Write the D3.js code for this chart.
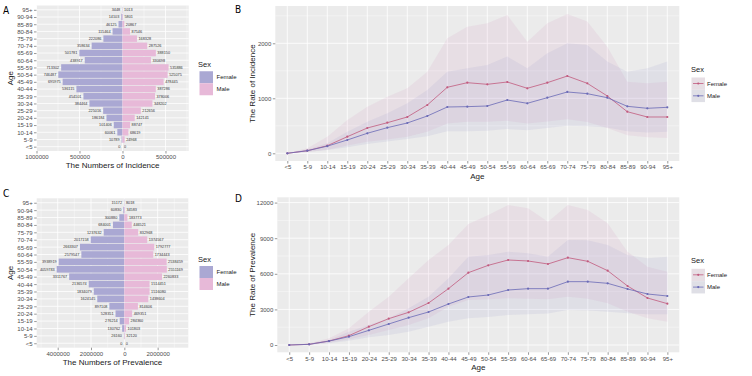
<!DOCTYPE html>
<html>
<head>
<meta charset="utf-8">
<script src="https://cdn.jsdelivr.net/npm/d3@7"></script>
<style>
  body { margin: 0; background: #fff; }
  svg text { font-family: "Liberation Sans", Arial, sans-serif; }
</style>
</head>
<body>
<svg id="chart" width="752" height="376"></svg>
<script>
// age groups, bottom (<5) to top (95+)
const ages = ["<5","5-9","10-14","15-19","20-24","25-29","30-34","35-39","40-44","45-49",
  "50-54","55-59","60-64","65-69","70-74","75-79","80-84","85-89","90-94","95+"];

// A: numbers of incidence
const incFemaleNum = [0, 10789, 60061, 101406, 186184, 225016, 384464, 454101, 536115, 695975,
  746487, 713302, 438917, 501781, 358634, 222086, 115464, 46125, 14103, 3448];
const incMaleNum = [0, 24968, 68619, 88747, 142141, 212656, 348202, 378006, 387286, 478445,
  525075, 535886, 330698, 388150, 287526, 168328, 87546, 20867, 5801, 1013];

// C: numbers of prevalence
const prevFemaleNum = [0, 26160, 130762, 276214, 528351, 897108, 1624145, 1834079, 2136574, 3311767,
  4059783, 3938919, 2579547, 2663307, 2017158, 1237632, 684001, 300880, 60830, 15172];
const prevMaleNum = [0, 32120, 101803, 284360, 469351, 814606, 1438604, 1516080, 1514451, 2260833,
  2551169, 2538459, 1734443, 1792777, 1374567, 832968, 446521, 183773, 34583, 8018];

// B: rate of incidence (with uncertainty bands)
const incRateFemale = [0, 47, 138, 302, 460, 556, 660, 878, 1200, 1284, 1254, 1296, 1182, 1284, 1405, 1272, 1042, 756, 660, 660];
const incFemaleHi = [0, 91, 302, 605, 847, 1029, 1182, 1484, 2090, 2302, 2364, 2515, 2030, 2364, 2533, 2394, 1939, 1303, 1273, 1303];
const incFemaleLo = [0, 22, 65, 140, 210, 250, 300, 390, 540, 575, 575, 590, 540, 580, 620, 570, 460, 330, 290, 280];
const incRateMale = [0, 47, 130, 242, 364, 466, 551, 678, 842, 848, 860, 969, 909, 1011, 1115, 1084, 1011, 854, 818, 836];
const incMaleHi = [0, 70, 182, 393, 575, 727, 909, 1151, 1484, 1545, 1606, 1758, 1545, 1818, 2000, 1970, 1667, 1484, 1545, 1667];
const incMaleLo = [0, 22, 60, 110, 170, 215, 260, 310, 400, 400, 410, 440, 420, 460, 500, 490, 470, 400, 380, 390];

// D: rate of prevalence
const prevRateFemale = [0, 56, 337, 787, 1545, 2219, 2753, 3539, 4747, 6095, 6713, 7163, 7079, 6826, 7360, 7051, 6264, 4972, 3961, 3483];
const prevFemaleHi = [0, 140, 562, 1404, 2809, 4073, 5618, 7163, 8427, 10200, 10955, 11798, 11517, 10393, 11798, 11376, 10253, 7865, 6601, 6180];
const prevFemaleLo = [0, 30, 200, 480, 843, 1264, 1685, 2247, 3230, 3792, 3850, 3933, 3900, 3850, 4073, 3900, 3511, 2809, 2247, 1966];
const prevRateMale = [0, 56, 330, 702, 1236, 1770, 2303, 2781, 3455, 4045, 4213, 4635, 4747, 4747, 5337, 5337, 5197, 4719, 4298, 4129];
const prevMaleHi = [0, 100, 422, 1124, 1685, 2247, 3090, 4073, 5618, 7444, 7584, 7865, 7725, 7444, 8848, 8820, 8427, 7584, 7303, 7444];
const prevMaleLo = [0, 30, 140, 365, 650, 843, 1124, 1545, 1966, 2247, 2350, 2528, 2600, 2650, 2949, 2900, 2809, 2668, 2600, 2600];

const sexes = ["Female", "Male"];

const svg = d3.select("#chart");
const panelBg = "#ebebeb";
const barColor = {Female: "#aaa8d3", Male: "#e7b9d8"};
const lineColor = {Female: "#c25a7e", Male: "#6a6ab6"};
const ribbonColor = {Female: "#d08cba", Male: "#9494c8"};

function styleAxis(ax){
  ax.select(".domain").remove();
  ax.attr("font-family", null);
  ax.selectAll(".tick line").attr("stroke", "#333").attr("stroke-width", 0.5);
  ax.selectAll(".tick text").attr("fill", "#4d4d4d").style("font-size", "6px");
}

function panelLetter(txt, x, y){
  svg.append("text").attr("x", x).attr("y", y).text(txt)
    .style("font-family", "'Liberation Sans Narrow','DejaVu Sans Condensed',sans-serif")
    .style("font-size", "10px");
}

/* population pyramid, female left, male right */
function pyramid(o){
  const g = svg.append("g");
  const x = d3.scaleLinear().domain(o.domain).range([o.left, o.right]);
  const y = d3.scalePoint().domain(ages).range([o.bottom, o.top]).padding(0.6);

  g.append("rect").attr("x", o.left).attr("y", o.top)
    .attr("width", o.right - o.left).attr("height", o.bottom - o.top).attr("fill", panelBg);

  o.minor.forEach(v => {
    g.append("line").attr("x1", x(v)).attr("x2", x(v)).attr("y1", o.top).attr("y2", o.bottom)
      .attr("stroke", "#fff").attr("stroke-width", 0.4);
  });
  o.ticks.forEach(v => {
    g.append("line").attr("x1", x(v)).attr("x2", x(v)).attr("y1", o.top).attr("y2", o.bottom)
      .attr("stroke", "#fff").attr("stroke-width", 0.8);
  });
  ages.forEach(a => {
    g.append("line").attr("x1", o.left).attr("x2", o.right).attr("y1", y(a)).attr("y2", y(a))
      .attr("stroke", "#fff").attr("stroke-width", 0.8);
  });

  const bh = y.step() * 0.9;
  g.selectAll(".bf").data(ages).enter().append("rect")
    .attr("x", (d, i) => x(-o.female[i]))
    .attr("width", (d, i) => x(0) - x(-o.female[i]))
    .attr("y", d => y(d) - bh / 2).attr("height", bh)
    .attr("fill", barColor.Female);
  g.selectAll(".bm").data(ages).enter().append("rect")
    .attr("x", x(0))
    .attr("width", (d, i) => x(o.male[i]) - x(0))
    .attr("y", d => y(d) - bh / 2).attr("height", bh)
    .attr("fill", barColor.Male);

  // value labels
  g.selectAll(".lf").data(ages).enter().append("text")
    .attr("x", (d, i) => x(-o.female[i]) - 2).attr("y", d => y(d)).attr("dy", "0.35em")
    .attr("text-anchor", "end").style("font-size", "3.8px").attr("fill", "#333")
    .text((d, i) => o.female[i]);
  g.selectAll(".lm").data(ages).enter().append("text")
    .attr("x", (d, i) => x(o.male[i]) + 1.5).attr("y", d => y(d)).attr("dy", "0.35em")
    .style("font-size", "3.8px").attr("fill", "#333")
    .text((d, i) => o.male[i]);

  const xa = g.append("g").attr("transform", `translate(0,${o.bottom})`)
    .call(d3.axisBottom(x).tickValues(o.ticks).tickFormat(d => Math.abs(d)).tickSize(2.5).tickPadding(1.5));
  styleAxis(xa);
  const ya = g.append("g").attr("transform", `translate(${o.left},0)`)
    .call(d3.axisLeft(y).tickSize(2.5).tickPadding(1.5));
  styleAxis(ya);

  g.append("text").attr("x", (o.left + o.right) / 2).attr("y", o.bottom + 14).attr("dy", "0.35em")
    .attr("text-anchor", "middle").style("font-size", "8px").attr("fill", "#1a1a1a").text(o.title);
  g.append("text").attr("transform", `translate(10,${(o.top + o.bottom) / 2}) rotate(-90)`)
    .attr("dy", "0.35em").attr("text-anchor", "middle").style("font-size", "8px").attr("fill", "#1a1a1a").text("Age");

  // legend
  const cy = (o.top + o.bottom) / 2;
  g.append("text").attr("x", 198).attr("y", cy - 13.5).attr("dy", "0.35em")
    .style("font-size", "7.5px").attr("fill", "#1a1a1a").text("Sex");
  sexes.forEach((s, i) => {
    const ky = cy - 1 + i * 12;
    g.append("rect").attr("x", 199.5).attr("y", ky - 6).attr("width", 13.5).attr("height", 12)
      .attr("fill", barColor[s]);
    g.append("text").attr("x", 216.5).attr("y", ky).attr("dy", "0.35em")
      .style("font-size", "6px").attr("fill", "#1a1a1a").text(s);
  });
}

/* rate by age with uncertainty ribbon */
function rateChart(o){
  const g = svg.append("g");
  const x = d3.scalePoint().domain(ages).range([o.left, o.right]).padding(0.6);
  const y = d3.scaleLinear().domain(o.domain).range([o.bottom, o.top]);

  g.append("rect").attr("x", o.left).attr("y", o.top)
    .attr("width", o.right - o.left).attr("height", o.bottom - o.top).attr("fill", panelBg);
  o.minor.forEach(v => {
    g.append("line").attr("x1", o.left).attr("x2", o.right).attr("y1", y(v)).attr("y2", y(v))
      .attr("stroke", "#fff").attr("stroke-width", 0.4);
  });
  o.ticks.forEach(v => {
    g.append("line").attr("x1", o.left).attr("x2", o.right).attr("y1", y(v)).attr("y2", y(v))
      .attr("stroke", "#fff").attr("stroke-width", 0.8);
  });
  ages.forEach(a => {
    g.append("line").attr("x1", x(a)).attr("x2", x(a)).attr("y1", o.top).attr("y2", o.bottom)
      .attr("stroke", "#fff").attr("stroke-width", 0.8);
  });

  const area = d3.area().x(d => x(d.age)).y0(d => y(d.lo)).y1(d => y(d.hi));
  const line = d3.line().x(d => x(d.age)).y(d => y(d.v));

  sexes.forEach(s => {
    const sr = o.series[s];
    const pts = ages.map((a, i) => ({age: a, v: sr.val[i], lo: sr.lo[i], hi: sr.hi[i]}));
    g.append("path").datum(pts).attr("d", area)
      .attr("fill", ribbonColor[s]).attr("fill-opacity", 0.13);
  });
  sexes.forEach(s => {
    const sr = o.series[s];
    const pts = ages.map((a, i) => ({age: a, v: sr.val[i]}));
    g.append("path").datum(pts).attr("d", line)
      .attr("fill", "none").attr("stroke", lineColor[s]).attr("stroke-width", 0.8);
    g.selectAll(null).data(pts).enter().append("circle")
      .attr("cx", d => x(d.age)).attr("cy", d => y(d.v)).attr("r", 1.1)
      .attr("fill", lineColor[s]);
  });

  const xa = g.append("g").attr("transform", `translate(0,${o.bottom})`)
    .call(d3.axisBottom(x).tickSize(2.5).tickPadding(1.5));
  styleAxis(xa);
  const ya = g.append("g").attr("transform", `translate(${o.left},0)`)
    .call(d3.axisLeft(y).tickValues(o.ticks).tickFormat(d3.format("d")).tickSize(2.5).tickPadding(1.5));
  styleAxis(ya);

  g.append("text").attr("x", (o.left + o.right) / 2).attr("y", o.bottom + 15).attr("dy", "0.35em")
    .attr("text-anchor", "middle").style("font-size", "8px").attr("fill", "#1a1a1a").text("Age");
  g.append("text").attr("transform", `translate(252,${(o.top + o.bottom) / 2}) rotate(-90)`)
    .attr("dy", "0.35em").attr("text-anchor", "middle").style("font-size", "8px").attr("fill", "#1a1a1a").text(o.title);

  // legend
  const cy = (o.top + o.bottom) / 2;
  g.append("text").attr("x", 691).attr("y", cy - 14).attr("dy", "0.35em")
    .style("font-size", "7.5px").attr("fill", "#1a1a1a").text("Sex");
  sexes.forEach((s, i) => {
    const ky = cy + i * 12.3;
    g.append("rect").attr("x", 691.5).attr("y", ky - 6).attr("width", 13.5).attr("height", 12.3)
      .attr("fill", panelBg);
    g.append("rect").attr("x", 691.5).attr("y", ky - 6).attr("width", 13.5).attr("height", 12.3)
      .attr("fill", ribbonColor[s]).attr("fill-opacity", 0.13);
    g.append("line").attr("x1", 693).attr("x2", 703.5).attr("y1", ky).attr("y2", ky)
      .attr("stroke", lineColor[s]).attr("stroke-width", 0.8);
    g.append("circle").attr("cx", 698.25).attr("cy", ky).attr("r", 1.1).attr("fill", lineColor[s]);
    g.append("text").attr("x", 707).attr("y", ky).attr("dy", "0.35em")
      .style("font-size", "6px").attr("fill", "#1a1a1a").text(s);
  });
}

pyramid({
  left: 36.5, right: 188.7, top: 5.5, bottom: 151,
  domain: [-1000000, 770000],
  ticks: [-1000000, -500000, 0, 500000],
  minor: [-750000, -250000, 250000, 750000],
  female: incFemaleNum, male: incMaleNum,
  title: "The Numbers of Incidence"
});

pyramid({
  left: 36.7, right: 188.3, top: 198.3, bottom: 347.7,
  domain: [-5260000, 3840000],
  ticks: [-4000000, -2000000, 0, 2000000],
  minor: [-5000000, -3000000, -1000000, 1000000, 3000000],
  female: prevFemaleNum, male: prevMaleNum,
  title: "The Numbers of Prevalence"
});

rateChart({
  left: 275.3, right: 679.3, top: 6, bottom: 161,
  domain: [-140, 2678],
  ticks: [0, 1000, 2000],
  minor: [500, 1500, 2500],
  title: "The Rate of Incidence",
  series: {
    Female: {val: incRateFemale, lo: incFemaleLo, hi: incFemaleHi},
    Male: {val: incRateMale, lo: incMaleLo, hi: incMaleHi}
  }
});

rateChart({
  left: 277.3, right: 679.3, top: 197.3, bottom: 352.3,
  domain: [-615, 12446],
  ticks: [0, 3000, 6000, 9000, 12000],
  minor: [1500, 4500, 7500, 10500],
  title: "The Rate of Prevalence",
  series: {
    Female: {val: prevRateFemale, lo: prevFemaleLo, hi: prevFemaleHi},
    Male: {val: prevRateMale, lo: prevMaleLo, hi: prevMaleHi}
  }
});

panelLetter("A", 3, 14);
panelLetter("B", 235, 13);
panelLetter("C", 3, 197);
panelLetter("D", 235, 201.5);
</script>
</body>
</html>
